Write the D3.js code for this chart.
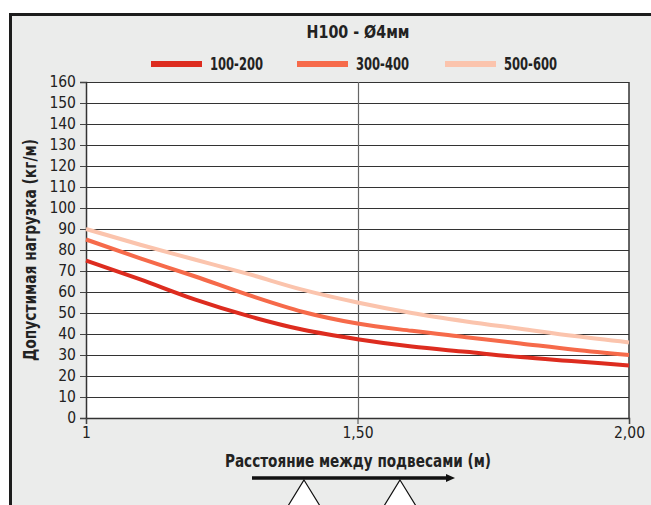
<!DOCTYPE html>
<html>
<head>
<meta charset="utf-8">
<script src="https://cdnjs.cloudflare.com/ajax/libs/d3/7.8.5/d3.min.js"></script>
<style>
  html, body { margin: 0; padding: 0; background: #fff; }
  svg { display: block; }
</style>
</head>
<body>
<div id="chart"></div>
<script>
// spans (m)
var spans = [1.0, 1.1, 1.2, 1.3, 1.4, 1.5, 1.6, 1.7, 1.8, 1.9, 2.0];
// allowed load (kg/m)
var load_100_200 = [75, 66, 56.5, 48.5, 42, 37.5, 34, 31.5, 29, 27, 25];
var load_300_400 = [85, 76, 67.5, 58.5, 50.5, 45, 41.5, 38.5, 35.5, 32.5, 30];
var load_500_600 = [90, 82.5, 75.5, 68.5, 61, 55, 50, 46, 42.5, 39, 36];
var seriesNames = ["100-200", "300-400", "500-600"];
var seriesColors = ["#dd2c1f", "#f66a4a", "#fbc4ad"];
var yTicks = d3.range(0, 161, 10);
var xTicks = [1, 1.5, 2];
var xTickLabels = ["1", "1,50", "2,00"];

var width = 651, height = 505;
var margin = { left: 86, right: 22, top: 82, bottom: 87 };
var font = "'Liberation Sans Narrow', 'DejaVu Sans Condensed', 'Roboto', sans-serif";

var svg = d3.select("#chart").append("svg")
	.attr("width", width)
	.attr("height", height);

// frame
svg.append("rect")
	.attr("x", 10.5).attr("y", 14.5)
	.attr("width", width).attr("height", height)
	.attr("fill", "#ebeceb")
	.attr("stroke", "#1c1c1c")
	.attr("stroke-width", 3);

var x = d3.scaleLinear().domain([1, 2]).range([margin.left, width - margin.right]);
var y = d3.scaleLinear().domain([0, 160]).range([height - margin.bottom, margin.top]);

// plot area
svg.append("rect")
	.attr("x", x(1)).attr("y", y(160))
	.attr("width", x(2) - x(1)).attr("height", y(0) - y(160))
	.attr("fill", "#fff");

// grid
svg.append("g").selectAll("line").data(yTicks).enter().append("line")
	.attr("x1", x(1)).attr("x2", x(2))
	.attr("y1", function (d) { return Math.round(y(d)) + 0.5; })
	.attr("y2", function (d) { return Math.round(y(d)) + 0.5; })
	.attr("stroke", "#333").attr("stroke-width", 1);
svg.append("line")
	.attr("x1", Math.round(x(1.5)) + 0.5).attr("x2", Math.round(x(1.5)) + 0.5)
	.attr("y1", y(160)).attr("y2", y(0))
	.attr("stroke", "#666").attr("stroke-width", 1.2);
svg.append("line")
	.attr("x1", x(2)).attr("x2", x(2))
	.attr("y1", y(160)).attr("y2", y(0))
	.attr("stroke", "#333").attr("stroke-width", 1.5);

// axes
var yAxis = svg.append("g")
	.attr("transform", "translate(" + x(1) + ",0)")
	.call(d3.axisLeft(y).tickValues(yTicks).tickSize(6).tickPadding(4));
var xAxis = svg.append("g")
	.attr("transform", "translate(0," + y(0) + ")")
	.call(d3.axisBottom(x).tickValues(xTicks).tickSize(6).tickPadding(3)
		.tickFormat(function (d, i) { return xTickLabels[i]; }));
[yAxis, xAxis].forEach(function (a) {
	a.select(".domain").attr("stroke", "#333").attr("stroke-width", 1.5);
	a.selectAll(".tick line").attr("stroke", "#444");
	a.selectAll("text")
		.style("font-family", font)
		.style("font-size", "15.5px")
		.attr("fill", "#222");
});

// lines
var allSeries = [load_100_200, load_300_400, load_500_600];
var line = d3.line()
	.x(function (d, i) { return x(spans[i]); })
	.y(function (d) { return y(d); })
	.curve(d3.curveMonotoneX);
svg.append("g").selectAll("path").data(allSeries.slice().reverse()).enter().append("path")
	.attr("d", line)
	.attr("fill", "none")
	.attr("stroke", function (d, i) { return seriesColors[2 - i]; })
	.attr("stroke-width", 4);

function boldText(sel, len) {
	return sel.style("font-family", font)
		.style("font-weight", "bold")
		.style("font-size", "17px")
		.attr("fill", "#222")
		.attr("textLength", len)
		.attr("lengthAdjust", "spacingAndGlyphs");
}

// title
boldText(svg.append("text"), 103)
	.attr("x", 358).attr("y", 38)
	.attr("text-anchor", "middle")
	.text("H100 - Ø4мм");

// legend
var legendX = [151, 297, 445];
var lg = svg.append("g").selectAll("g").data(seriesNames).enter().append("g")
	.attr("transform", function (d, i) { return "translate(" + legendX[i] + ",64)"; });
lg.append("rect")
	.attr("x", 0).attr("y", -3).attr("width", 51).attr("height", 6)
	.attr("fill", function (d, i) { return seriesColors[i]; });
boldText(lg.append("text"), 53)
	.attr("x", 59).attr("y", 6)
	.text(function (d) { return d; });

// axis titles
boldText(svg.append("text"), 222)
	.attr("transform", "translate(36,250) rotate(-90)")
	.attr("text-anchor", "middle")
	.text("Допустимая нагрузка (кг/м)");
boldText(svg.append("text"), 266)
	.attr("x", 358).attr("y", 467)
	.attr("text-anchor", "middle")
	.text("Расстояние между подвесами (м)");

// arrow and supports
svg.append("line")
	.attr("x1", 252).attr("x2", 448).attr("y1", 478).attr("y2", 478)
	.attr("stroke", "#111").attr("stroke-width", 3.5);
svg.append("path")
	.attr("d", "M446,474 L455,478 L446,482 Z")
	.attr("fill", "#111");
[304, 400].forEach(function (cx) {
	svg.append("path")
		.attr("d", "M" + cx + ",480 L" + (cx + 16) + ",506 L" + (cx - 16) + ",506 Z")
		.attr("fill", "#fff").attr("stroke", "#111").attr("stroke-width", 1.2);
});
</script>
</body>
</html>
